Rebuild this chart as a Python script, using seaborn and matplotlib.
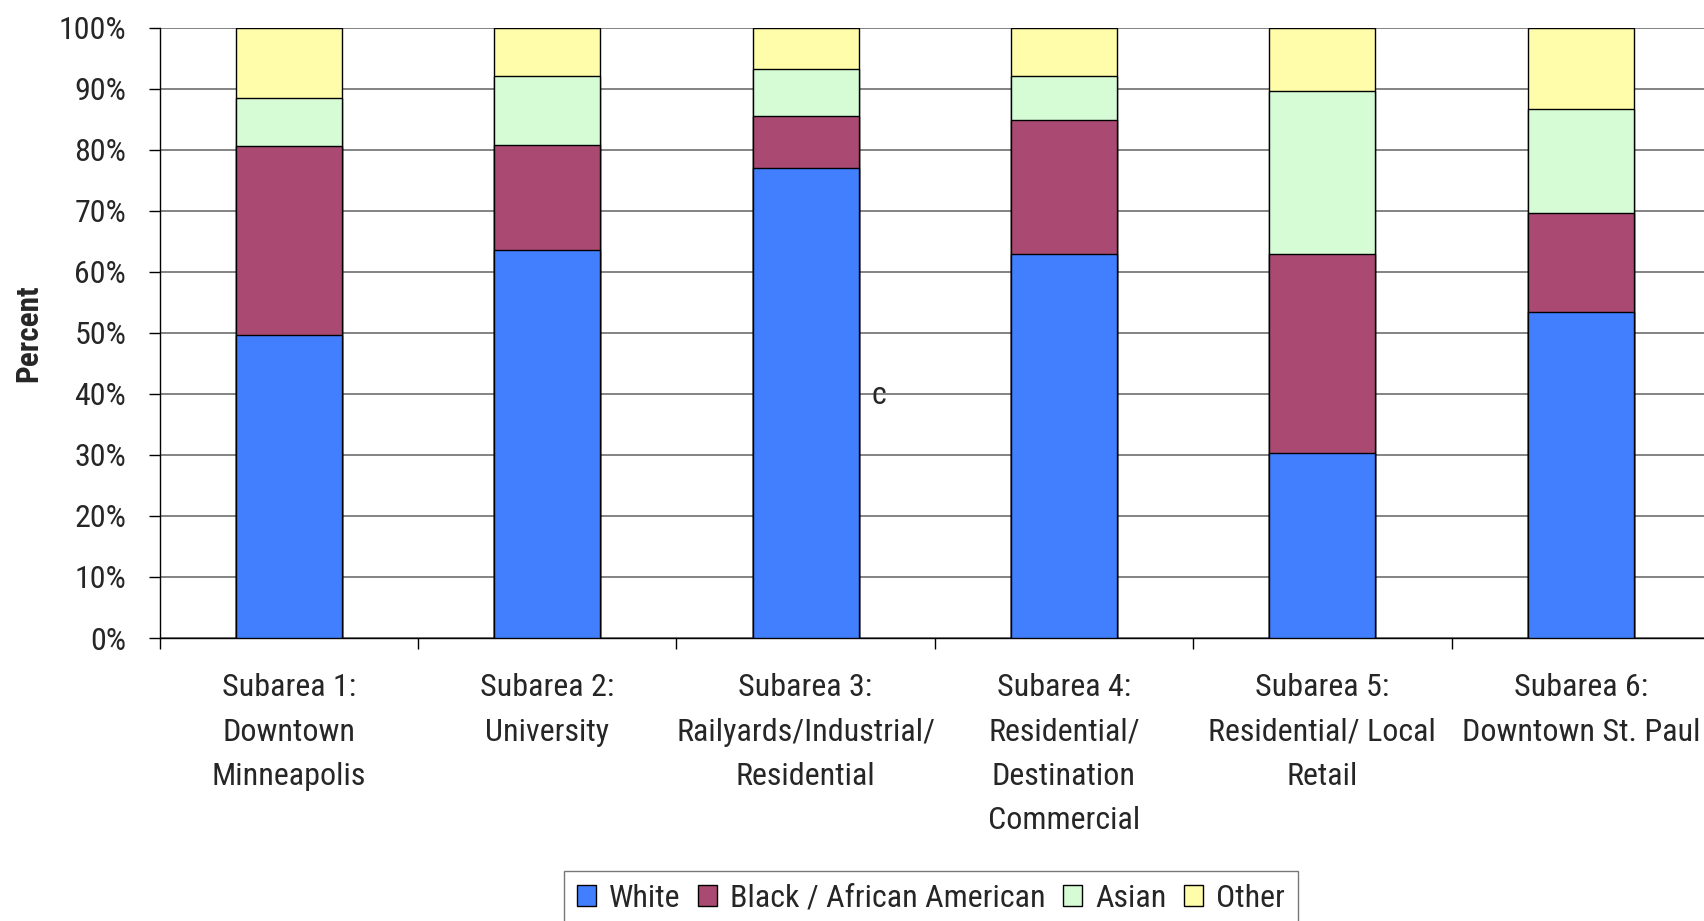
import numpy as np
import pandas as pd
import matplotlib
matplotlib.use("Agg")
import matplotlib.pyplot as plt
from matplotlib import font_manager
from matplotlib.patches import Patch
from matplotlib.ticker import FixedLocator, PercentFormatter
import seaborn as sns

# Population share by race for each subarea (percent)
subareas = [
    "Subarea 1:\nDowntown\nMinneapolis",
    "Subarea 2:\nUniversity",
    "Subarea 3:\nRailyards/Industrial/\nResidential",
    "Subarea 4:\nResidential/\nDestination\nCommercial",
    "Subarea 5:\nResidential/ Local\nRetail",
    "Subarea 6:\nDowntown St. Paul",
]
white = [49.7, 63.6, 77.0, 63.0, 30.3, 53.4]
black = [30.9, 17.1, 8.5, 21.9, 32.7, 16.3]
asian = [7.9, 11.4, 7.8, 7.2, 26.7, 17.0]
other = [11.5, 7.9, 6.7, 7.9, 10.3, 13.3]

groups = ["White", "Black / African American", "Asian", "Other"]
colors = ["#427FFF", "#AA4A73", "#D5FCD5", "#FFFCAA"]

sns.set_theme(style="white")
available = {f.name for f in font_manager.fontManager.ttflist}
family, fs = "Liberation Sans", 20
for cand in ["Roboto Condensed", "Liberation Sans Narrow", "Arial Narrow"]:
    if cand in available:
        family, fs = cand, 23
        break
plt.rcParams["font.family"] = [family, "DejaVu Sans"]

df = pd.DataFrame({"Subarea": subareas, "White": white,
                   "Black / African American": black,
                   "Asian": asian, "Other": other})
cum = df[groups].cumsum(axis=1)

fig = plt.figure(figsize=(17.04, 9.21), dpi=100)
W, H = 1704, 921
ax = fig.add_axes([159.5 / W, 283 / H, (1710 - 159.5) / W, 610.3 / H])

# Stacked bars: draw cumulative totals from the top segment down
for g, c in reversed(list(zip(groups, colors))):
    sns.barplot(x=df["Subarea"], y=cum[g], color=c, width=0.41,
                edgecolor="black", linewidth=1.0, ax=ax, zorder=3,
                saturation=1)

ax.set_xlim(-0.5, 5.5)
ax.set_ylim(0, 100)
ax.yaxis.set_major_locator(FixedLocator(np.arange(0, 101, 10)))
ax.yaxis.set_major_formatter(PercentFormatter(decimals=0))
ax.grid(axis="y", color="#7a7a7a", linewidth=1.3, zorder=0)
ax.set_axisbelow(True)

for s in ["top", "right"]:
    ax.spines[s].set_visible(False)
ax.spines["left"].set_color("black")
ax.spines["bottom"].set_color("black")
ax.spines["left"].set_linewidth(1.0)
ax.spines["bottom"].set_linewidth(1.0)

ax.tick_params(axis="y", which="major", direction="out", length=8,
               width=1, color="black", pad=16, labelsize=fs, left=True)
ax.tick_params(axis="x", which="major", length=0, pad=25.5, labelsize=fs)
ax.set_xticks(range(len(subareas)))
ax.set_xticklabels(subareas, linespacing=1.66, va="top")
ax.set_xticks(np.arange(-0.5, 6, 1), minor=True)
ax.tick_params(axis="x", which="minor", direction="out", length=8,
               width=1, color="black", bottom=True)

ax.set_xlabel("")
ax.set_ylabel("Percent", fontsize=fs - 0.5, fontweight="bold")
ax.yaxis.set_label_coords(-(159.5 - 43) / (1710 - 159.5), 0.5)

ax.text(2.285, 39.7, "c", fontsize=fs, va="center", ha="center")

handles = [Patch(facecolor=c, edgecolor="black", linewidth=1.0) for c in colors]
fig.legend(handles, groups, loc="upper center", ncol=4,
           bbox_to_anchor=(931 / W, 1 - 871 / H), borderaxespad=0,
           fontsize=fs, frameon=True, fancybox=False, edgecolor="#555555",
           handlelength=0.6, handleheight=0.6, handletextpad=0.4,
           columnspacing=0.55, borderpad=0.4)

fig.savefig("out.png", dpi=100)
